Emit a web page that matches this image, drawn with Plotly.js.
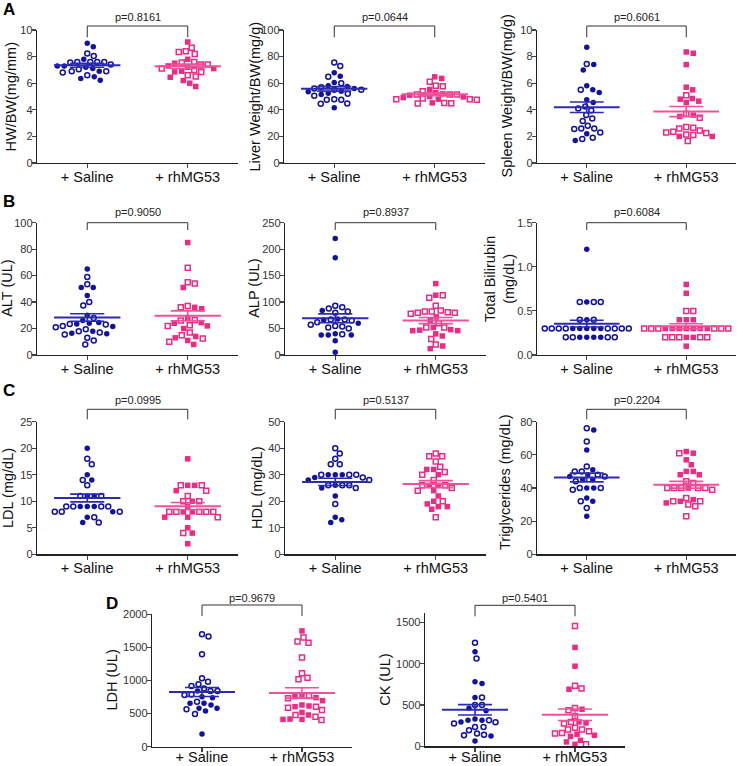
<!DOCTYPE html>
<html>
<head>
<meta charset="utf-8">
<script src="https://cdn.plot.ly/plotly-3.0.1.min.js"></script>
<style>body{margin:0;background:#fff}</style>
</head>
<body>
<div id="fig" style="width:737px;height:766px"></div>
<script>
// group labels
var groups = ['+ Saline', '+ rhMG53'];

// values: F = filled marker, O = open marker
var hwSalF = [9.0, 8.74, 7.8, 7.3, 7.3, 7.2, 7.1, 6.9, 6.48, 6.36, 6.23];
var hwSalO = [8.24, 8.04, 7.6, 7.6, 7.6, 7.6, 7.55, 7.4, 7.05, 6.9, 6.9, 6.8, 6.6];
var hwRhF = [9.1, 7.8, 7.5, 7.3, 7.2, 7.1, 6.9, 6.85, 6.45, 6.2, 6.0, 5.75];
var hwRhO = [8.67, 8.4, 8.35, 8.2, 7.6, 7.55, 7.4, 7.4, 7.1, 7.0, 6.85, 6.6, 6.5];

var liverSalF = [67.8, 65.3, 60.5, 58, 57.5, 56, 54, 53.5, 52.5, 51.5, 41.5];
var liverSalO = [75.6, 72.9, 64.8, 60, 57, 56, 55, 55, 52, 50.5, 48, 47.5, 47.5, 44.7, 44.5];
var liverRhF = [64.8, 63.6, 55.3, 52.8, 52, 51, 50, 49.7, 49.2, 48, 45.2];
var liverRhO = [61, 58, 57.8, 54, 51.5, 51.5, 51.5, 48.5, 48, 48, 47.5, 45.2, 45, 44.7];

var spleenSalF = [8.7, 7.4, 7.0, 5.8, 5.5, 5.3, 4.75, 4.55, 2.2, 1.7];
var spleenSalO = [7.45, 5.5, 4.25, 4.1, 3.95, 3.6, 3.35, 3.15, 2.8, 2.6, 2.6, 2.55, 2.3, 1.9, 1.8];
var spleenRhF = [8.35, 8.25, 7.4, 5.7, 5.5, 4.85, 4.8, 4.65, 4.55, 3.6, 3.5, 2.0, 2.0];
var spleenRhO = [5.1, 3.7, 3.4, 2.7, 2.65, 2.6, 2.45, 2.35, 2.3, 2.25, 2.15, 2.1, 1.65];

var altSalF = [65, 51, 51, 45, 30, 26, 24.5, 24, 23.5, 21.5, 18, 16.5, 16];
var altSalO = [59, 53.5, 40, 37.5, 28, 23.5, 23, 22, 21, 19.5, 18, 17, 15.5, 13, 11, 8];
var altRhF = [85, 51, 36, 35, 27.5, 24.5, 24, 22, 20, 14, 13, 11, 8];
var altRhO = [66, 55, 54, 37, 36, 26.5, 26, 22.5, 22, 17, 15, 12.5, 10];

var alpSalF = [220, 184, 84, 68, 66, 60, 40, 38, 38, 38, 27, 5];
var alpSalO = [93, 90, 88, 82, 80, 67, 67, 65, 62, 57, 55, 54, 52, 50, 39];
var alpRhF = [135, 113, 72, 65, 52, 48, 47, 46, 46, 40, 36, 17, 12];
var alpRhO = [113, 108, 93, 84, 82, 82, 81, 80, 80, 78, 60, 52, 52, 30, 20];

var biliSalF = [1.2, 0.6, 0.4, 0.3, 0.3, 0.3, 0.3, 0.3, 0.2, 0.2, 0.2, 0.2];
var biliSalO = [0.6, 0.6, 0.6, 0.4, 0.4, 0.3, 0.3, 0.3, 0.3, 0.3, 0.3, 0.3, 0.3, 0.2, 0.2, 0.2, 0.2];
var biliRhF = [0.8, 0.7, 0.4, 0.4, 0.4, 0.3, 0.3, 0.3, 0.3, 0.3, 0.3, 0.3, 0.2, 0.2, 0.1];
var biliRhO = [0.5, 0.5, 0.3, 0.3, 0.3, 0.3, 0.3, 0.3, 0.2, 0.2, 0.2, 0.2, 0.2];

var ldlSalF = [20, 15, 14, 11, 11, 9, 9, 9, 8, 7, 6];
var ldlSalO = [18, 17, 14, 13, 11, 11, 9, 9, 9, 9, 8, 8, 8, 7, 6];
var ldlRhF = [18, 13, 13, 12, 10, 9, 8, 8, 7, 7, 5, 4, 2];
var ldlRhO = [13, 13, 12, 11, 10, 10, 8, 8, 8, 8, 8, 7, 4];

var hdlSalF = [30, 30, 30, 29, 28, 26, 25, 22, 14, 13, 12];
var hdlSalO = [40, 38, 36, 34, 34, 30, 30, 30, 29, 28, 26, 26, 26, 25, 19];
var hdlRhF = [32, 32, 30, 26, 26, 24, 22, 20, 19, 18, 18, 17];
var hdlRhO = [38, 37, 37, 35, 33, 31, 30, 28, 26, 26, 25, 24, 20, 14];

var tgSalF = [75, 63, 51, 48, 47, 45, 45, 40, 40, 34, 32, 23];
var tgSalO = [76, 68, 53, 50, 50, 48, 47, 44, 40, 40, 39, 32, 28];
var tgRhF = [62, 61, 57, 54, 50, 50, 48, 48, 40, 33, 32, 31];
var tgRhO = [61, 44, 43, 40, 40, 40, 40, 40, 39, 34, 32, 32, 30, 29, 23];

var ldhSalF = [840, 755, 740, 655, 655, 630, 580, 580, 540, 192];
var ldhSalO = [1698, 1663, 1396, 1033, 983, 942, 917, 880, 840, 840, 790, 780, 680, 565, 494];
var ldhRhF = [1749, 781, 756, 741, 695, 630, 615, 605, 519, 479, 418, 413, 413];
var ldhRhO = [1648, 1588, 1572, 1346, 1109, 1043, 1018, 766, 731, 605, 590, 554, 479, 454, 403];

var ckSalF = [1144, 780, 760, 590, 460, 430, 330, 315, 315, 295, 125, 65];
var ckSalO = [1253, 1063, 590, 500, 500, 315, 290, 275, 234, 234, 194, 154, 141, 133];
var ckRhF = [1197, 970, 691, 449, 295, 283, 146, 133, 121, 73, 53, 24];
var ckRhO = [1455, 732, 700, 465, 437, 364, 295, 275, 226, 202, 202, 182, 162, 154, 24];

var pValues = ['p=0.8161', 'p=0.0644', 'p=0.6061', 'p=0.9050', 'p=0.8937', 'p=0.6084',
               'p=0.0995', 'p=0.5137', 'p=0.2204', 'p=0.9679', 'p=0.5401'];

var W = 737, H = 766;
var BLUE = '#1212a0', PINK = '#ee2a82';
var BLUE_LINE = '#2b2bb2', PINK_LINE = '#f0529a';
var FONT = 'Arial, "Liberation Sans", sans-serif';

// panel boxes in pixels (left, width, top, bottom), y-title position, bracket offsets
var panels = [
  {x0: 37,  w: 201, top: 30,    bot: 163, ymax: 10,   dtick: 2,   title: 'HW/BW(mg/mm)', tx: 10, d: [hwSalF, hwSalO, hwRhF, hwRhO], br: [-4, 7.3, -13]},
  {x0: 284, w: 201, top: 30,    bot: 163, ymax: 100,  dtick: 20,  title: 'Liver Weight/BW(mg/g)', tx: 254, d: [liverSalF, liverSalO, liverRhF, liverRhO], br: [-4, 7.3, -13]},
  {x0: 537, w: 199, top: 30,    bot: 163, ymax: 10,   dtick: 2,   title: 'Spleen Weight/BW(mg/g)', tx: 506, d: [spleenSalF, spleenSalO, spleenRhF, spleenRhO], br: [-4, 7.3, -13]},
  {x0: 37,  w: 201, top: 222.7, bot: 355, ymax: 100,  dtick: 20,  title: 'ALT (UL)', tx: 7, d: [altSalF, altSalO, altRhF, altRhO], br: [0, 7.3, -11]},
  {x0: 285, w: 201, top: 222.7, bot: 355, ymax: 250,  dtick: 50,  title: 'ALP (UL)', tx: 254, d: [alpSalF, alpSalO, alpRhF, alpRhO], br: [0, 7.3, -11]},
  {x0: 537, w: 199, top: 222.7, bot: 355, ymax: 1.5,  dtick: 0.5, title: 'Total Bilirubin<br>(mg/dL)', tx: 499, ty: 279, fmt: '.1f', d: [biliSalF, biliSalO, biliRhF, biliRhO], br: [0, 7.3, -11]},
  {x0: 37,  w: 201, top: 421.7, bot: 554.3, ymax: 25, dtick: 5,   title: 'LDL (mg/dL)', tx: 8, d: [ldlSalF, ldlSalO, ldlRhF, ldlRhO], br: [-12.4, -2.4, -21.7]},
  {x0: 285, w: 201, top: 421.7, bot: 554.3, ymax: 50, dtick: 10,  title: 'HDL (mg/dL)', tx: 257, d: [hdlSalF, hdlSalO, hdlRhF, hdlRhO], br: [-12.4, -2.4, -21.7]},
  {x0: 537, w: 199, top: 421.7, bot: 554.3, ymax: 80, dtick: 20,  title: 'Triglycerides (mg/dL)', tx: 505, ty: 482, d: [tgSalF, tgSalO, tgRhF, tgRhO], br: [-12.4, -2.4, -21.7]},
  {x0: 152, w: 200, top: 614.3, bot: 746.7, ymax: 2000, dtick: 500, title: 'LDH (UL)', tx: 111, d: [ldhSalF, ldhSalO, ldhRhF, ldhRhO], br: [-9.3, 1.7, -16]},
  {x0: 425, w: 200, top: 613.3, bot: 746.3, ymax: 1610, dtick: 500, title: 'CK (UL)', tx: 385, d: [ckSalF, ckSalO, ckRhF, ckRhO], br: [-8, 3, -15]}
];

var XR = [-0.5, 1.5];

// simple beeswarm in pixel space: returns x offsets (data units)
function swarm(vals, kx, ky, dist) {
  var order = vals.map(function (v, i) { return i; });
  order.sort(function (a, b) { return vals[b] - vals[a] || a - b; });
  var placed = [], out = new Array(vals.length);
  order.forEach(function (i) {
    var y = vals[i] * ky, best = 0;
    for (var k = 0; k < 300; k++) {
      var cands = k === 0 ? [0] : [k * 0.5, -k * 0.5], found = false;
      for (var c = 0; c < cands.length; c++) {
        var x = cands[c], ok = true;
        for (var j = 0; j < placed.length; j++) {
          var dx = placed[j][0] - x, dy = placed[j][1] - y;
          if (dx * dx + dy * dy < dist * dist) { ok = false; break; }
        }
        if (ok) { best = x; found = true; break; }
      }
      if (found) break;
    }
    placed.push([best, y]);
    out[i] = best / kx;
  });
  return out;
}

function meanSem(a) {
  var m = a.reduce(function (s, v) { return s + v; }, 0) / a.length;
  var sd = Math.sqrt(a.reduce(function (s, v) { return s + (v - m) * (v - m); }, 0) / (a.length - 1));
  return [m, sd / Math.sqrt(a.length)];
}

var data = [], shapes = [], annotations = [];
var layout = {
  width: W, height: H, margin: {l: 0, r: 0, t: 0, b: 0},
  paper_bgcolor: '#fff', plot_bgcolor: 'rgba(0,0,0,0)',
  showlegend: false, font: {family: FONT, color: '#222'}
};

panels.forEach(function (p, n) {
  var id = n + 1, sx = id === 1 ? '' : String(id);
  var kx = p.w / (XR[1] - XR[0]), ky = (p.bot - p.top) / p.ymax;
  layout['xaxis' + sx] = {
    domain: [p.x0 / W, (p.x0 + p.w) / W], range: XR, anchor: 'y' + sx,
    tickvals: [0, 1], ticktext: groups, ticks: 'outside', ticklen: 4, tickwidth: 1.2,
    ticklabelstandoff: id >= 10 ? -7 : -4,
    showline: true, linewidth: 1.3, linecolor: '#222', showgrid: false, zeroline: false,
    tickfont: {size: 14.5, color: '#111', family: FONT}, fixedrange: true
  };
  layout['yaxis' + sx] = {
    domain: [1 - p.bot / H, 1 - p.top / H], range: [0, p.ymax], anchor: 'x' + sx,
    dtick: p.dtick, tick0: 0, ticks: 'outside', ticklen: 4, tickwidth: 1.2,
    ticklabelstandoff: -3,
    showline: true, linewidth: 1.3, linecolor: '#222', showgrid: false, zeroline: false,
    tickformat: p.fmt || '', tickfont: {size: 11, color: '#333', family: FONT}
  };
  // y title as rotated text so it can sit close to the tick labels
  annotations.push({
    xref: 'paper', yref: 'paper', x: p.tx / W, y: 1 - (p.ty || (p.top + p.bot) / 2) / H,
    text: p.title, textangle: -90, showarrow: false, xanchor: 'center', yanchor: 'middle',
    font: {size: 14.5, color: '#111', family: FONT}
  });

  [[0, p.d[0], p.d[1], BLUE, BLUE_LINE, 'circle'], [1, p.d[2], p.d[3], PINK, PINK_LINE, 'square']].forEach(function (g) {
    var c = g[0], all = g[1].concat(g[2]);
    var offs = swarm(all, kx, ky, 6.8);
    var nf = g[1].length;
    data.push({
      x: offs.slice(0, nf).map(function (o) { return c + o; }), y: g[1],
      type: 'scatter', mode: 'markers', xaxis: 'x' + sx, yaxis: 'y' + sx, cliponaxis: false,
      marker: {symbol: g[5], size: 5.5, color: g[3]}
    });
    data.push({
      x: offs.slice(nf).map(function (o) { return c + o; }), y: g[2],
      type: 'scatter', mode: 'markers', xaxis: 'x' + sx, yaxis: 'y' + sx, cliponaxis: false,
      marker: {symbol: g[5] + '-open', size: 5, color: g[3], line: {width: 1.5, color: g[3]}}
    });
    var ms = meanSem(all), m = ms[0], s = ms[1];
    data.push({
      x: [c - 0.33, c + 0.33], y: [m, m], type: 'scatter', mode: 'lines',
      xaxis: 'x' + sx, yaxis: 'y' + sx, line: {color: g[4], width: 2}
    });
    data.push({
      x: [c - 0.17, c + 0.17, null, c, c, null, c - 0.17, c + 0.17],
      y: [m + s, m + s, null, m + s, m - s, null, m - s, m - s],
      type: 'scatter', mode: 'lines', xaxis: 'x' + sx, yaxis: 'y' + sx,
      line: {color: g[4], width: 1.6}
    });
  });

  // significance bracket between the two groups
  var xa = (p.x0 + (0 - XR[0]) * kx) / W, xb = (p.x0 + (1 - XR[0]) * kx) / W;
  var yTop = 1 - (p.top + p.br[0]) / H, yEnd = 1 - (p.top + p.br[1]) / H;
  shapes.push({
    type: 'path', xref: 'paper', yref: 'paper',
    path: 'M' + xa + ',' + yEnd + 'L' + xa + ',' + yTop + 'L' + xb + ',' + yTop + 'L' + xb + ',' + yEnd,
    line: {color: '#333', width: 1}
  });
  annotations.push({
    xref: 'paper', yref: 'paper', x: (xa + xb) / 2, y: 1 - (p.top + p.br[2]) / H,
    text: pValues[n], showarrow: false, xanchor: 'center', yanchor: 'middle',
    font: {size: 11, color: '#222', family: FONT}
  });
});

[['A', 1, 10], ['B', 1, 201], ['C', 1, 390], ['D', 104, 603]].forEach(function (l) {
  annotations.push({
    xref: 'paper', yref: 'paper', x: l[1] / W, y: 1 - l[2] / H, text: '<b>' + l[0] + '</b>',
    showarrow: false, xanchor: 'left', yanchor: 'middle',
    font: {size: 17, color: '#000', family: FONT}
  });
});

layout.shapes = shapes;
layout.annotations = annotations;

Plotly.newPlot('fig', data, layout, {staticPlot: true});
</script>
</body>
</html>
